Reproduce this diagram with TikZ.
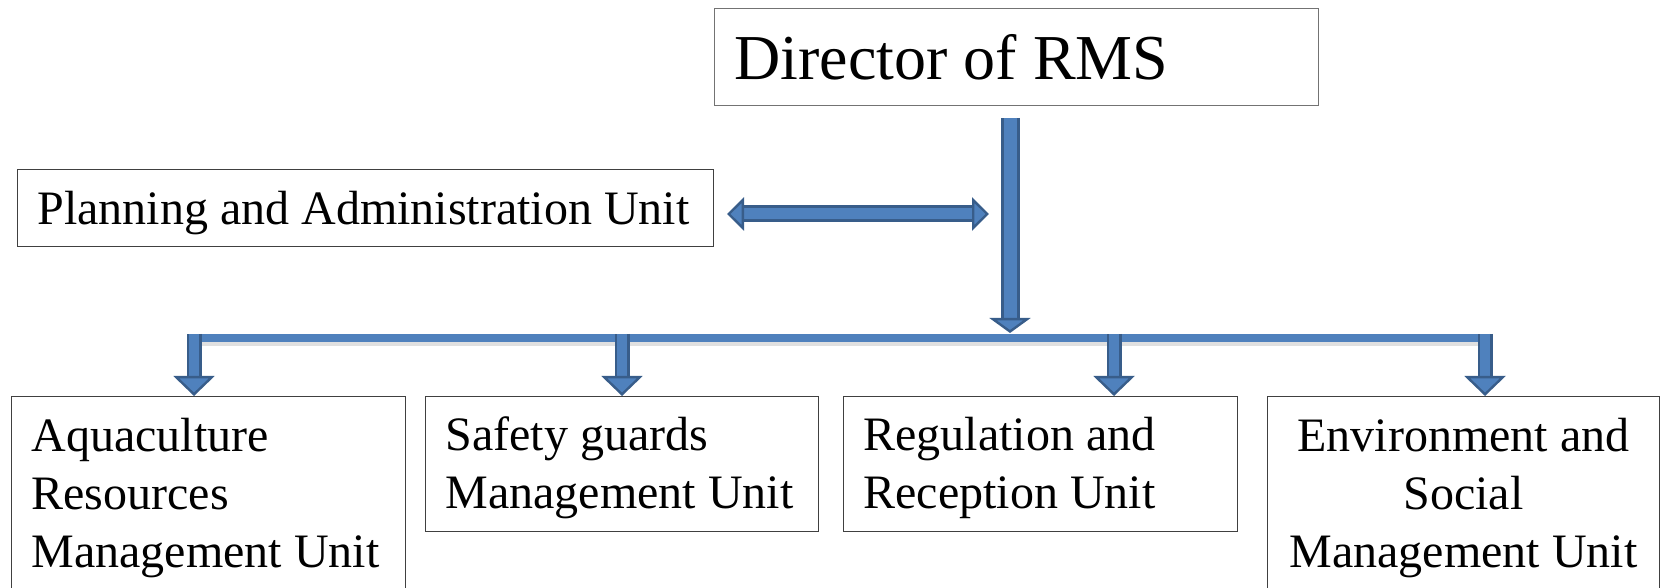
\documentclass[tikz,border=0pt]{standalone}
\usepackage{fontspec}
\setmainfont{Liberation Serif}
\usetikzlibrary{arrows.meta, positioning}
\definecolor{flechaazul}{HTML}{4F81BD}
\definecolor{bordeazul}{HTML}{385D8A}

\begin{document}
\begin{tikzpicture}[
        x=0.5pt, y=-0.5pt,
        % Estilos para cajas
        unitbox/.style={
                rectangle,
                draw=black!75,
                line width=0.6pt,
                anchor=north west,
                inner xsep=10pt,
                inner ysep=0pt,
                align=flush left,
                font=\fontsize{24}{29}\selectfont,
                text=black
            },
        directorbox/.style={
                unitbox,
                draw=black!55,
                font=\fontsize{32}{38}\selectfont
            },
        % Flechas
        downarrow/.style={
                draw=flechaazul,
                line width=5pt,
                -{Triangle[length=10pt, width=20.5pt, color=bordeazul, fill=flechaazul, line width=1.2pt]},
                preaction={draw=bordeazul, line width=7.5pt, arrows=-, shorten >=9pt}
            },
        mainarrow/.style={
                draw=flechaazul,
                line width=6.5pt,
                -{Triangle[length=7.5pt, width=20.5pt, color=bordeazul, fill=flechaazul, line width=1.2pt]},
                preaction={draw=bordeazul, line width=9.5pt, arrows=-, shorten >=7pt}
            },
        twoway/.style={
                draw=flechaazul,
                line width=5.5pt,
                {Triangle[length=8.5pt, width=16.5pt, color=bordeazul, fill=flechaazul, line width=1.2pt]}-{Triangle[length=8.5pt, width=16.5pt, color=bordeazul, fill=flechaazul, line width=1.2pt]},
                preaction={draw=bordeazul, line width=8.5pt, arrows=-, shorten >=8pt, shorten <=8pt}
            },
        % Linea de reparto
        busline/.style={
                draw=flechaazul,
                line width=4pt,
                preaction={draw=black!12, line width=3.5pt, transform canvas={yshift=-2.5pt}}
            }
    ]
    \useasboundingbox (0,0) rectangle (1661,588);

    % Cajas
    \node[directorbox, text width=282pt, minimum height=48.5pt] (director) at (714,8) {Director of RMS};
    \node[unitbox, text width=328pt, minimum height=38.5pt, text height=20pt, text depth=3.5pt] (planning) at (17,169) {Planning and Administration Unit};

    \node[unitbox, text width=177pt, minimum height=101pt] (aquaculture) at (11,396) {Aquaculture\\Resources\\Management Unit};
    \node[unitbox, text width=176.5pt, minimum height=67.5pt, text height=21pt] (safety) at (425,396) {Safety guards\\Management Unit};
    \node[unitbox, text width=177pt, minimum height=67.5pt, text height=21pt] (regulation) at (843,396) {Regulation and\\Reception Unit};
    \node[unitbox, text width=176pt, minimum height=101pt, align=flush center] (environment) at (1267,396) {Environment and\\Social\\Management Unit};

    % Puntos de las flechas
    \coordinate (trunktop) at (1010,118);
    \coordinate (hub) at (1010,333);
    \coordinate (busW) at (190,338);
    \coordinate (busE) at (1493,338);
    \coordinate (linkW) at (727,214);
    \coordinate (linkE) at (989,214);

    % Flechas
    \draw[busline] (busW) -- (busE);
    \draw[mainarrow] (trunktop) -- (hub);
    \draw[twoway] (linkW) -- (linkE);
    \foreach \ax/\unit in {194/aquaculture, 622/safety, 1114/regulation, 1485/environment}
        \draw[downarrow] (\ax,334) -- (\ax,0 |- \unit.north);

\end{tikzpicture}
\end{document}
